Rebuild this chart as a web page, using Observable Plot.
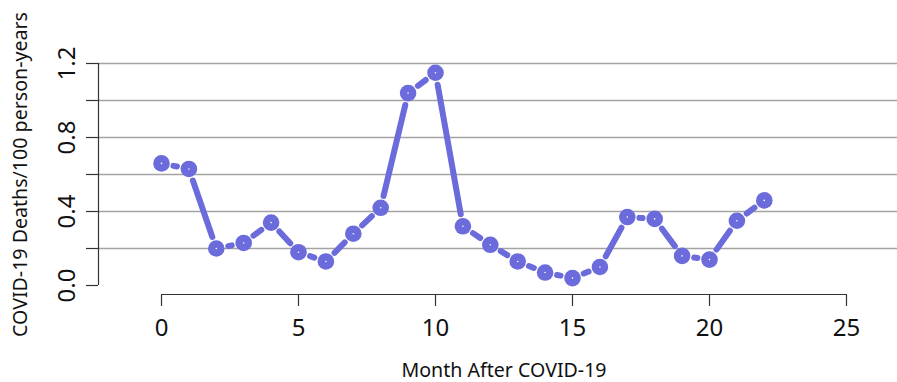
<!DOCTYPE html>
<html>
<head>
<meta charset="utf-8">
<script src="https://cdn.jsdelivr.net/npm/d3@7"></script>
<script src="https://cdn.jsdelivr.net/npm/@observablehq/plot@0.6"></script>
<style>
  html, body { margin: 0; padding: 0; background: #fff; }
</style>
</head>
<body>
<div id="chart"></div>
<script>
// Monthly COVID-19 death rate after infection
const months = [0, 1, 2, 3, 4, 5, 6, 7, 8, 9, 10, 11, 12, 13, 14, 15, 16, 17, 18, 19, 20, 21, 22];
const deathRate = [0.66, 0.63, 0.20, 0.23, 0.34, 0.18, 0.13, 0.28, 0.42, 1.04, 1.15, 0.32, 0.22, 0.13, 0.07, 0.04, 0.10, 0.37, 0.36, 0.16, 0.14, 0.35, 0.46];

const xTicks = [0, 5, 10, 15, 20, 25];
const yTicks = [0, 0.2, 0.4, 0.6, 0.8, 1.0, 1.2];
const yLabelled = ["0.0", "0.4", "0.8", "1.2"];
const xTitle = "Month After COVID-19";
const yTitle = "COVID-19 Deaths/100 person-years";

const W = 897, H = 382;
const color = "#6b6bdb";

// layout: axis offsets in pixels
const marginLeft = 98, marginTop = 63, marginBottom = 88;
const pxPerMonth = 27.4;       // horizontal scale
const zeroOffset = 63;         // month 0 sits this far right of the y axis
const axisGap = 9;             // x axis line sits below y = 0
const plotH = H - marginTop - marginBottom;
const pxPerUnit = (plotH - axisGap) / 1.2;

const xMin = -zeroOffset / pxPerMonth;
const xMax = xMin + (W - marginLeft) / pxPerMonth;
const yMin = -axisGap / pxPerUnit;
const yMax = 1.2;

const points = months.map((m, i) => ({month: m, rate: deathRate[i]}));
const segments = points.slice(1).map((p, i) => ({
  x1: points[i].month, y1: points[i].rate, x2: p.month, y2: p.rate
}));

const chart = Plot.plot({
  width: W,
  height: H,
  marginLeft,
  marginRight: 0,
  marginTop,
  marginBottom,
  style: {fontFamily: "'Noto Sans', 'Open Sans', sans-serif", background: "#fff", overflow: "visible"},
  x: {domain: [xMin, xMax], axis: null},
  y: {domain: [yMin, yMax], axis: null},
  marks: [
    // horizontal grid lines
    Plot.ruleY(yTicks.filter(d => d > 0), {stroke: "#a3a3a3", strokeWidth: 1.3}),
    // y axis
    Plot.ruleX([xMin], {y1: yTicks[0], y2: yTicks[yTicks.length - 1], stroke: "#333", strokeWidth: 1.2}),
    Plot.axisY({ticks: yTicks, tickSize: 12, tickFormat: () => "", label: null, stroke: "#333", strokeWidth: 1.2}),
    Plot.text(yTicks.filter(d => yLabelled.includes(d.toFixed(1))), {
      x: xMin, y: d => d, text: d => d.toFixed(1), rotate: -90, dx: -31,
      textAnchor: "middle", lineAnchor: "middle", fontSize: 24, fill: "#111"
    }),
    Plot.text([yTitle], {
      x: xMin, y: 0.6, dx: -78, rotate: -90, textAnchor: "middle",
      lineAnchor: "middle", fontSize: 19.6, fill: "#111"
    }),
    // x axis
    Plot.ruleY([yMin], {x1: xTicks[0], x2: xTicks[xTicks.length - 1], stroke: "#333", strokeWidth: 1.2}),
    Plot.axisX({ticks: xTicks, tickSize: 12, tickFormat: () => "", label: null, stroke: "#333", strokeWidth: 1.2}),
    Plot.text(xTicks, {
      x: d => d, y: yMin, dy: 34, text: d => String(d),
      textAnchor: "middle", lineAnchor: "middle", fontSize: 24, fill: "#111"
    }),
    Plot.text([xTitle], {
      x: (xTicks[0] + xTicks[xTicks.length - 1]) / 2, y: yMin, dy: 76,
      textAnchor: "middle", lineAnchor: "middle", fontSize: 19.6, fill: "#111"
    }),
    // connecting segments, stopping short of each point
    Plot.arrow(segments, {
      x1: "x1", y1: "y1", x2: "x2", y2: "y2", bend: 0, headLength: 0,
      insetStart: 12.2, insetEnd: 12.2, stroke: color, strokeWidth: 6, strokeLinecap: "round"
    }),
    Plot.dot(points, {x: "month", y: "rate", r: 8.3, fill: color, stroke: "none"}),
    Plot.dot(points, {x: "month", y: "rate", r: 0.8, fill: "#fff", stroke: "none"})
  ]
});

document.getElementById("chart").appendChild(chart);
</script>
</body>
</html>
